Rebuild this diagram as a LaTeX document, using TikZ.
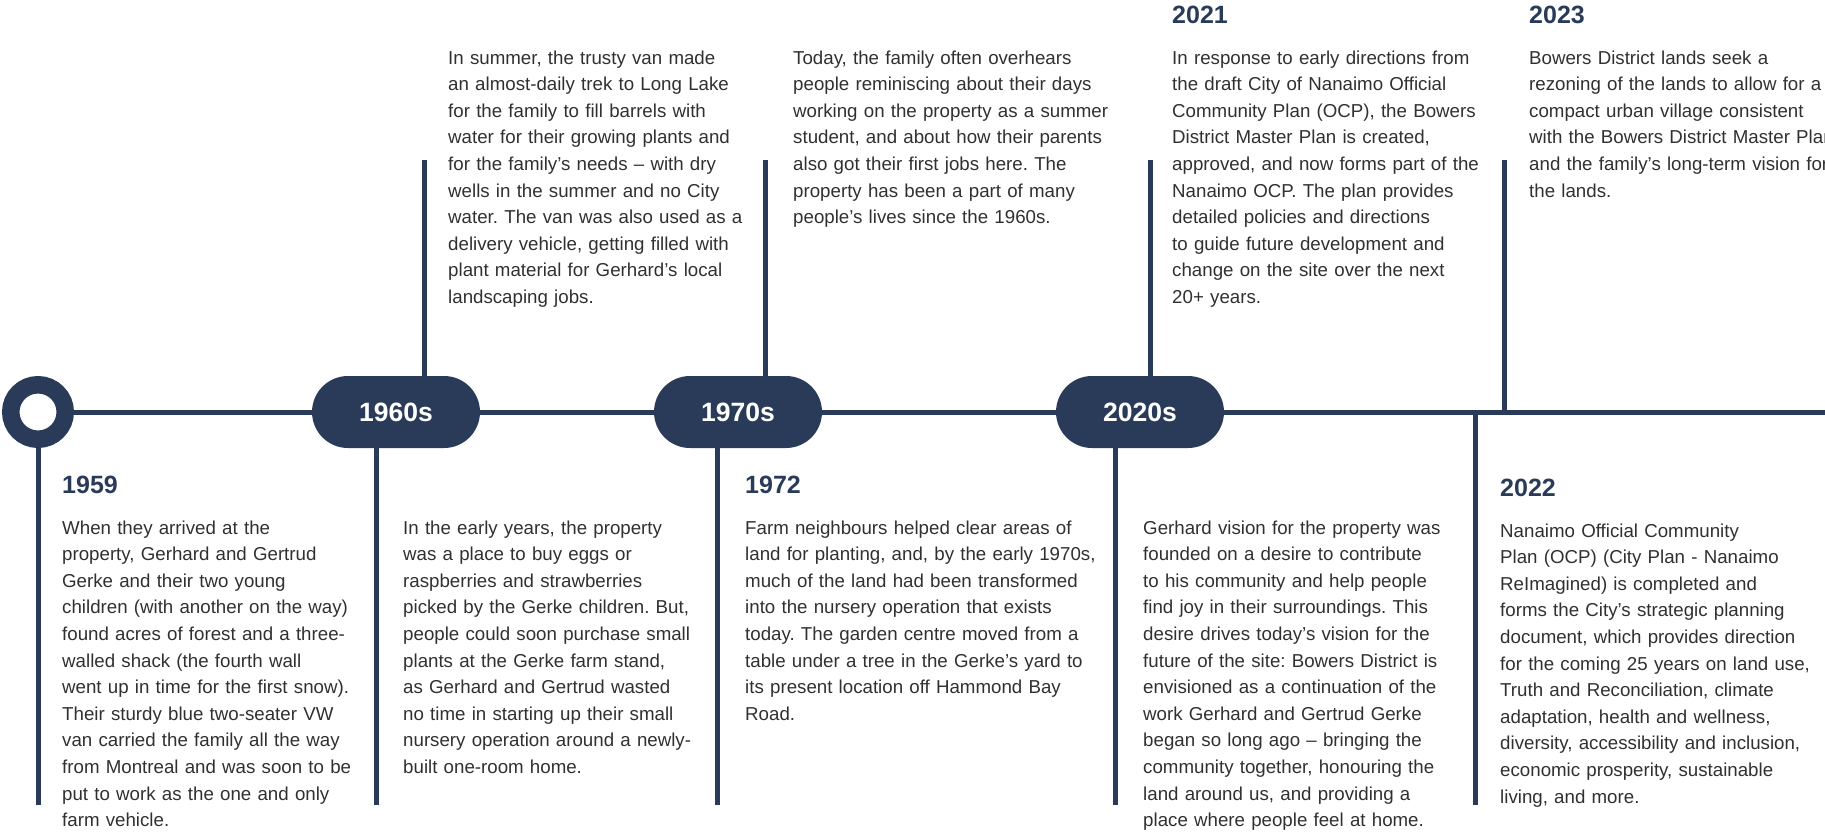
\documentclass[tikz,border=0pt]{standalone}
\usepackage{fontspec}
\setmainfont{Liberation Sans}
\usetikzlibrary{positioning}
\definecolor{tlnavy}{RGB}{41,59,88}
\definecolor{tlink}{RGB}{48,48,48}
\frenchspacing

\begin{document}
\begin{tikzpicture}[
    x=1pt, y=-1pt,
    ring/.style={circle, draw=tlnavy, fill=white, line width=17.5pt, minimum size=54.5pt, inner sep=0pt},
    era/.style={fill=tlnavy, rounded corners=36pt, minimum width=168pt, minimum height=72pt, inner sep=0pt,
        text=white, font=\fontsize{26.5}{30}\selectfont\bfseries},
    year/.style={anchor=base west, inner sep=0pt, text=tlnavy, font=\fontsize{25}{30}\selectfont\bfseries},
    story/.style={anchor=base west, inner sep=0pt, text width=420pt, align=left, text=tlink,
        font=\fontsize{18.7}{26.6}\selectfont},
    stem/.style={draw=tlnavy, line width=5pt}
]
    \useasboundingbox (0,0) rectangle (1825,833);
    \clip (0,0) rectangle (1825,833);

    % timeline markers
    \node[ring] (origin) at (38,412) {};
    \node[era] (p1960) at (396,412) {1960s};
    \node[era] (p1970) at (738,412) {1970s};
    \node[era] (p2020) at (1140,412) {2020s};
    \coordinate (tlend) at (1825,412);

    \draw[stem] (origin.east) -- (p1960.west) (p1960.east) -- (p1970.west)
        (p1970.east) -- (p2020.west) (p2020.east) -- (tlend);

    % stems
    \coordinate (dn1959) at (38,805);
    \coordinate (up1960) at (424,160);
    \coordinate (dn1960) at (376,805);
    \coordinate (up1970) at (765.5,160);
    \coordinate (dn1970) at (717.5,805);
    \coordinate (up2020) at (1150.5,160);
    \coordinate (dn2020) at (1115.5,805);
    \coordinate (dn2022) at (1475.5,805);
    \coordinate (up2023) at (1504.5,160);

    \draw[stem] (origin.south) -- (dn1959);
    \draw[stem] (up1960) -- (up1960 |- p1960.north);
    \draw[stem] (p1960.south -| dn1960) -- (dn1960);
    \draw[stem] (up1970) -- (up1970 |- p1970.north);
    \draw[stem] (p1970.south -| dn1970) -- (dn1970);
    \draw[stem] (up2020) -- (up2020 |- p2020.north);
    \draw[stem] (p2020.south -| dn2020) -- (dn2020);
    \draw[stem] (dn2022 |- tlend) -- (dn2022);
    \draw[stem] (up2023) -- (up2023 |- tlend);

    % 1959
    \node[year] (y1959) at (62,493) {1959};
    \node[story] (s1959) at (62,534) {When they arrived at the\\
        property, Gerhard and Gertrud\\
        Gerke and their two young\\
        children (with another on the way)\\
        found acres of forest and a three-\\
        walled shack (the fourth wall\\
        went up in time for the first snow).\\
        Their sturdy blue two-seater VW\\
        van carried the family all the way\\
        from Montreal and was soon to be\\
        put to work as the one and only\\
        farm vehicle.};

    % 1960s
    \node[story] (s1960a) at (448,64) {In summer, the trusty van made\\
        an almost-daily trek to Long Lake\\
        for the family to fill barrels with\\
        water for their growing plants and\\
        for the family’s needs – with dry\\
        wells in the summer and no City\\
        water. The van was also used as a\\
        delivery vehicle, getting filled with\\
        plant material for Gerhard’s local\\
        landscaping jobs.};
    \node[story] (s1960b) at (403,534) {In the early years, the property\\
        was a place to buy eggs or\\
        raspberries and strawberries\\
        picked by the Gerke children. But,\\
        people could soon purchase small\\
        plants at the Gerke farm stand,\\
        as Gerhard and Gertrud wasted\\
        no time in starting up their small\\
        nursery operation around a newly-\\
        built one-room home.};

    % 1970s
    \node[story] (s1970) at (793,64) {Today, the family often overhears\\
        people reminiscing about their days\\
        working on the property as a summer\\
        student, and about how their parents\\
        also got their first jobs here. The\\
        property has been a part of many\\
        people’s lives since the 1960s.};
    \node[year] (y1972) at (745,493) {1972};
    \node[story] (s1972) at (745,534) {Farm neighbours helped clear areas of\\
        land for planting, and, by the early 1970s,\\
        much of the land had been transformed\\
        into the nursery operation that exists\\
        today. The garden centre moved from a\\
        table under a tree in the Gerke’s yard to\\
        its present location off Hammond Bay\\
        Road.};

    % 2020s
    \node[year] (y2021) at (1172,23) {2021};
    \node[story] (s2021) at (1172,64) {In response to early directions from\\
        the draft City of Nanaimo Official\\
        Community Plan (OCP), the Bowers\\
        District Master Plan is created,\\
        approved, and now forms part of the\\
        Nanaimo OCP. The plan provides\\
        detailed policies and directions\\
        to guide future development and\\
        change on the site over the next\\
        20+ years.};
    \node[story] (s2020) at (1143,534) {Gerhard vision for the property was\\
        founded on a desire to contribute\\
        to his community and help people\\
        find joy in their surroundings. This\\
        desire drives today’s vision for the\\
        future of the site: Bowers District is\\
        envisioned as a continuation of the\\
        work Gerhard and Gertrud Gerke\\
        began so long ago – bringing the\\
        community together, honouring the\\
        land around us, and providing a\\
        place where people feel at home.};
    \node[year] (y2022) at (1500,496) {2022};
    \node[story] (s2022) at (1500,537) {Nanaimo Official Community\\
        Plan (OCP) (City Plan - Nanaimo\\
        ReImagined) is completed and\\
        forms the City’s strategic planning\\
        document, which provides direction\\
        for the coming 25 years on land use,\\
        Truth and Reconciliation, climate\\
        adaptation, health and wellness,\\
        diversity, accessibility and inclusion,\\
        economic prosperity, sustainable\\
        living, and more.};
    \node[year] (y2023) at (1529,23) {2023};
    \node[story] (s2023) at (1529,64) {Bowers District lands seek a\\
        rezoning of the lands to allow for a\\
        compact urban village consistent\\
        with the Bowers District Master Plan\\
        and the family’s long-term vision for\\
        the lands.};
\end{tikzpicture}
\end{document}
